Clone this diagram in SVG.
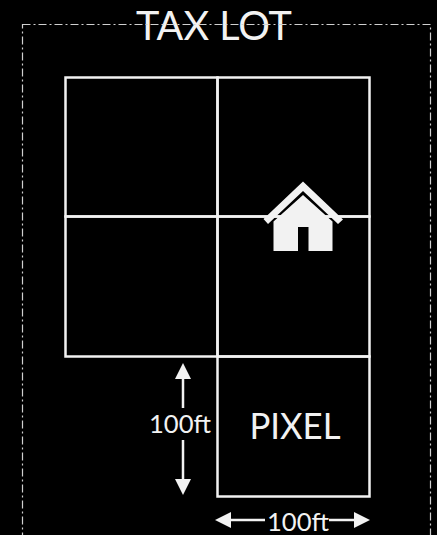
<svg xmlns="http://www.w3.org/2000/svg" width="437" height="535" viewBox="0 0 437 535">
<style>
.g{fill:none;stroke:#f2f2f2;stroke-width:2.5}
.c{fill:none;stroke:#f2f2f2;stroke-width:2.5}
.h{fill:#f2f2f2}
text{font-family:Lato,"Liberation Sans",sans-serif;fill:#f2f2f2}
</style>
<defs>
<marker id="ah" markerUnits="userSpaceOnUse" markerWidth="17" markerHeight="16" refX="1" refY="8" orient="auto"><path d="M0 0L16 8L0 16Z" fill="#f2f2f2"/></marker>
</defs>
<rect width="437" height="535" fill="#000"/>
<g id="tax-lot">
<text x="214" y="40" font-size="41" text-anchor="middle" textLength="156" lengthAdjust="spacingAndGlyphs">TAX LOT</text>
<rect x="22.5" y="24.500" width="408" height="530" fill="none" stroke="#d0d0d0" stroke-width="1.200" stroke-dasharray="8 3 2 3"/>
</g>
<g id="grid">
<rect class="g" x="65.5" y="77.5" width="152" height="139"/>
<rect class="g" x="217.5" y="77.5" width="152" height="139"/>
<rect class="g" x="65.5" y="216.5" width="152" height="140"/>
<rect class="g" x="217.5" y="216.5" width="152" height="140"/>
</g>
<g id="pixel"><rect class="g" x="217.5" y="356.5" width="152" height="140"/>
<text x="295" y="439" font-size="36" text-anchor="middle" textLength="91" lengthAdjust="spacingAndGlyphs">PIXEL</text></g>
<g id="house">
<path class="h" d="M303 195L332.500 221.500V251H308.500V227H298V251H273.500V221.500Z"/>
<path class="h" d="M303 181.500L343 219.500L338 224L303 191L268 224L263.500 219L303 181.500Z"/>
</g>
<g id="connectors">
<path class="c" d="M183 408V378" marker-end="url(#ah)"/>
<path class="c" d="M183 440V480" marker-end="url(#ah)"/>
<path class="c" d="M265 520H230" marker-end="url(#ah)"/>
<path class="c" d="M329 520H355" marker-end="url(#ah)"/>
</g>
<g id="labels">
<text x="180" y="433" font-size="25.500" text-anchor="middle" textLength="62" lengthAdjust="spacingAndGlyphs">100ft</text>
<text x="298" y="531" font-size="25.500" text-anchor="middle" textLength="62" lengthAdjust="spacingAndGlyphs">100ft</text>
</g>
</svg>
